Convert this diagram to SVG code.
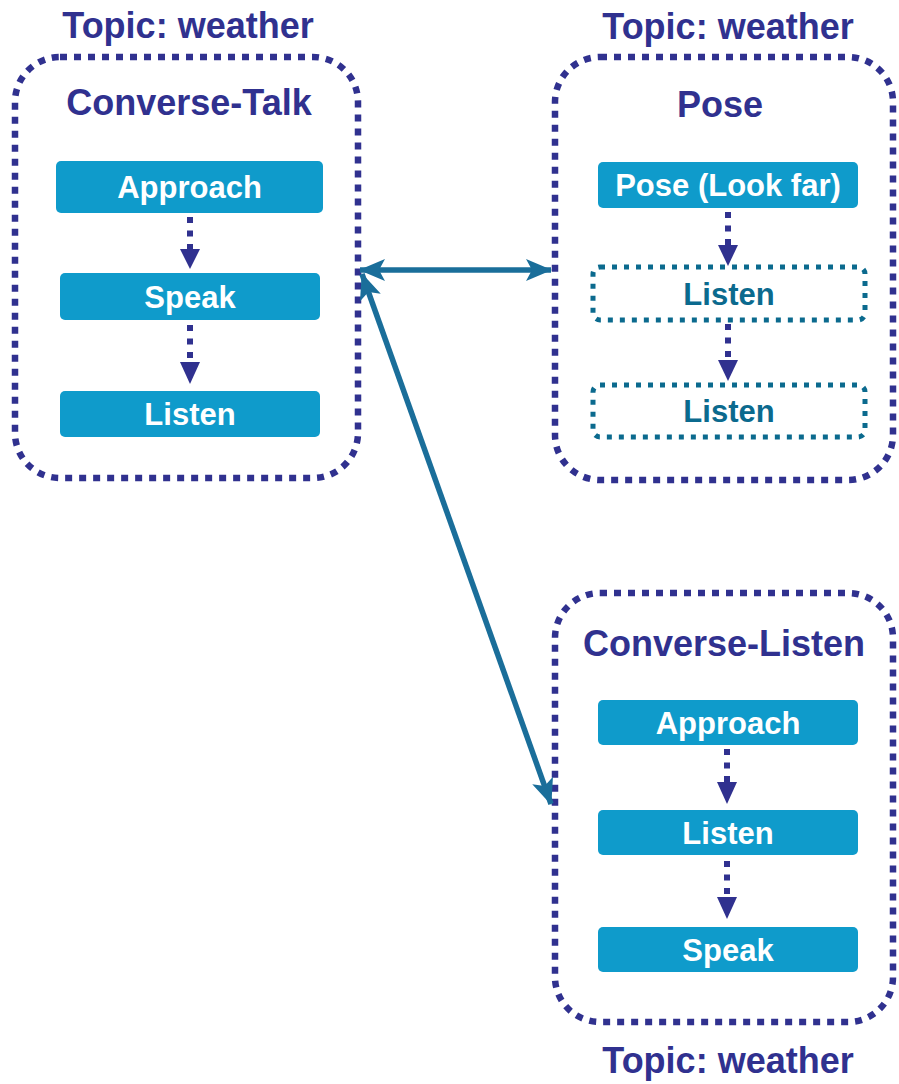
<svg xmlns="http://www.w3.org/2000/svg" width="899" height="1084" viewBox="0 0 899 1084">
<style>
.cont{fill:none;stroke:#30318f;stroke-width:6.5;stroke-dasharray:7 7}
.title{font-family:"Liberation Sans",Arial,sans-serif;font-weight:bold;font-size:36px;fill:#30318f;text-anchor:middle}
.box{fill:#0f9bcb}
.btxt{font-family:"Liberation Sans",Arial,sans-serif;font-weight:bold;font-size:31px;fill:#ffffff;text-anchor:middle}
.dbox{fill:none;stroke:#0b6a8e;stroke-width:5;stroke-dasharray:5 7}
.dtxt{font-family:"Liberation Sans",Arial,sans-serif;font-weight:bold;font-size:31px;fill:#0b6a8e;text-anchor:middle}
.darr{fill:none;stroke:#30318f;stroke-width:6;stroke-dasharray:6 7.5}
.ahead{fill:#30318f}
.conn{fill:none;stroke:#1a6e9a;stroke-width:5.5}
</style>
<defs>
<marker id="bi" markerUnits="userSpaceOnUse" viewBox="0 0 26 22" refX="25" refY="11" markerWidth="26" markerHeight="22" orient="auto-start-reverse">
<path d="M0,0 L26,11 L0,22 L6,11 z" fill="#1a6e9a"/>
</marker>
</defs>

<g id="talk">
<text class="title" x="188" y="38">Topic: weather</text>
<rect class="cont" x="15" y="57" width="343" height="421" rx="45"/>
<text class="title" x="189" y="115">Converse-Talk</text>
<g id="talk-approach"><rect class="box" x="56" y="161" width="267" height="52" rx="5"/><text class="btxt" x="189.5" y="197.5">Approach</text></g>
<g id="talk-speak"><rect class="box" x="60" y="273" width="260" height="47" rx="5"/><text class="btxt" x="190" y="307.5">Speak</text></g>
<g id="talk-listen"><rect class="box" x="60" y="391" width="260" height="46" rx="5"/><text class="btxt" x="190" y="425">Listen</text></g>
</g>

<g id="pose">
<text class="title" x="728" y="39">Topic: weather</text>
<rect class="cont" x="555" y="57" width="338" height="423" rx="45"/>
<text class="title" x="720" y="117">Pose</text>
<g id="pose-look"><rect class="box" x="598" y="162" width="260" height="46" rx="5"/><text class="btxt" x="728" y="196">Pose (Look far)</text></g>
<g id="pose-listen1"><rect class="dbox" x="593" y="267" width="272" height="53" rx="7"/><text class="dtxt" x="729" y="304.5">Listen</text></g>
<g id="pose-listen2"><rect class="dbox" x="593" y="385" width="272" height="52" rx="7"/><text class="dtxt" x="729" y="422">Listen</text></g>
</g>

<g id="listen">
<rect class="cont" x="555" y="593" width="338" height="429" rx="45"/>
<text class="title" x="724" y="656">Converse-Listen</text>
<g id="listen-approach"><rect class="box" x="598" y="700" width="260" height="45" rx="5"/><text class="btxt" x="728" y="733.5">Approach</text></g>
<g id="listen-listen"><rect class="box" x="598" y="810" width="260" height="45" rx="5"/><text class="btxt" x="728" y="843.5">Listen</text></g>
<g id="listen-speak"><rect class="box" x="598" y="927" width="260" height="45" rx="5"/><text class="btxt" x="728" y="960.5">Speak</text></g>
<text class="title" x="728" y="1073">Topic: weather</text>
</g>

<g id="connectors">
<line class="darr" x1="190" y1="217" x2="190" y2="250"/>
<polygon class="ahead" points="180,249 200,249 190,269"/>
<line class="darr" x1="190" y1="325" x2="190" y2="363"/>
<polygon class="ahead" points="180,362 200,362 190,384"/>

<line class="darr" x1="728" y1="212" x2="728" y2="246"/>
<polygon class="ahead" points="718,245 738,245 728,266"/>
<line class="darr" x1="728" y1="324" x2="728" y2="361"/>
<polygon class="ahead" points="718,360 738,360 728,381"/>

<line class="darr" x1="727" y1="749" x2="727" y2="783"/>
<polygon class="ahead" points="717,782 737,782 727,804"/>
<line class="darr" x1="727" y1="861" x2="727" y2="898"/>
<polygon class="ahead" points="717,897 737,897 727,919"/>

<line class="conn" x1="360" y1="270" x2="551" y2="270" marker-start="url(#bi)" marker-end="url(#bi)"/>
<line class="conn" x1="362" y1="274" x2="551" y2="804" marker-start="url(#bi)" marker-end="url(#bi)"/>
</g>
</svg>
